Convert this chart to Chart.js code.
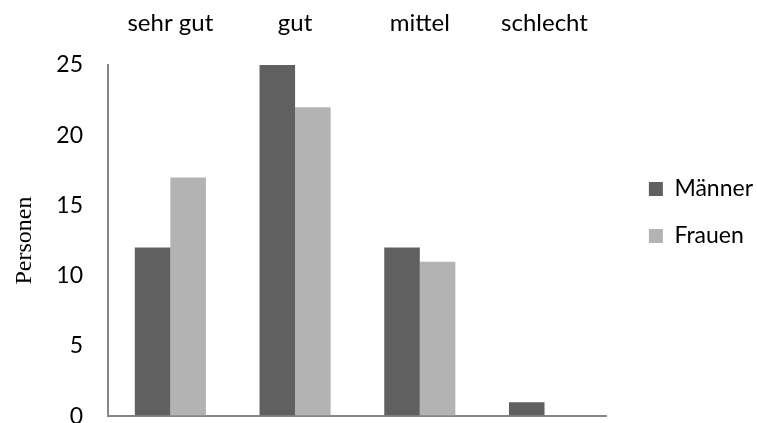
<!DOCTYPE html>
<html>
<head>
<meta charset="utf-8">
<script src="https://cdn.jsdelivr.net/npm/chart.js@4/dist/chart.umd.min.js"></script>
<style>
  html, body { margin: 0; padding: 0; background: #fff; overflow: hidden; width: 757px; height: 423px; }
  #wrap { width: 757px; height: 455px; position: relative; }
</style>
</head>
<body>
<div id="wrap"><canvas id="c"></canvas></div>
<script>
const categories = ["sehr gut", "gut", "mittel", "schlecht"];
const maenner = [12, 25, 12, 1];
const frauen = [17, 22, 11, 0];
const yTicks = [0, 5, 10, 15, 20, 25];
const seriesNames = ["Männer", "Frauen"];
const yTitle = "Personen";

const tickFont = { family: "Lato", size: 23 };
const catFont = { family: "Lato", size: 24 };

// shift legend away from plot area (Excel-like gap)
const legendShift = {
  id: "legendShift",
  afterLayout(chart) {
    const lg = chart.legend;
    lg.left += 18; lg.right += 18;
    lg.top -= 16; lg.bottom -= 16;
  }
};

new Chart(document.getElementById("c"), {
  type: "bar",
  data: {
    labels: categories,
    datasets: [
      { label: seriesNames[0], data: maenner, backgroundColor: "#606060", borderWidth: 0,
        categoryPercentage: 0.57, barPercentage: 1.0 },
      { label: seriesNames[1], data: frauen, backgroundColor: "#b3b3b3", borderWidth: 0,
        categoryPercentage: 0.57, barPercentage: 1.0 }
    ]
  },
  plugins: [legendShift],
  options: {
    responsive: true,
    maintainAspectRatio: false,
    animation: false,
    layout: { padding: { top: 2, left: 0, right: 12, bottom: 0 } },
    plugins: {
      legend: {
        position: "right",
        labels: {
          font: tickFont, color: "#000",
          boxWidth: 14, boxHeight: 14, padding: 24
        }
      },
      tooltip: { enabled: false }
    },
    scales: {
      x: {
        position: "top",
        afterFit: (s) => { s.height = 63; },
        grid: { display: false, drawTicks: false },
        border: { display: false },
        ticks: { font: catFont, color: "#000", padding: 27 }
      },
      y: {
        min: 0, max: 25,
        afterBuildTicks: (s) => { s.ticks = yTicks.map(v => ({ value: v })); },
        afterFit: (s) => { s.width = 108; },
        grid: {
          drawTicks: false,
          lineWidth: 2,
          color: (ctx) => (ctx.tick && ctx.tick.value === 0) ? "#868686" : "rgba(0,0,0,0)"
        },
        border: { display: true, color: "#868686", width: 2 },
        ticks: { font: tickFont, color: "#000", padding: 25 },
        title: {
          display: true, text: yTitle, color: "#000",
          font: { family: "Liberation Serif", size: 24 },
          padding: { top: 10, bottom: 0 }
        }
      }
    }
  }
});
</script>
</body>
</html>
